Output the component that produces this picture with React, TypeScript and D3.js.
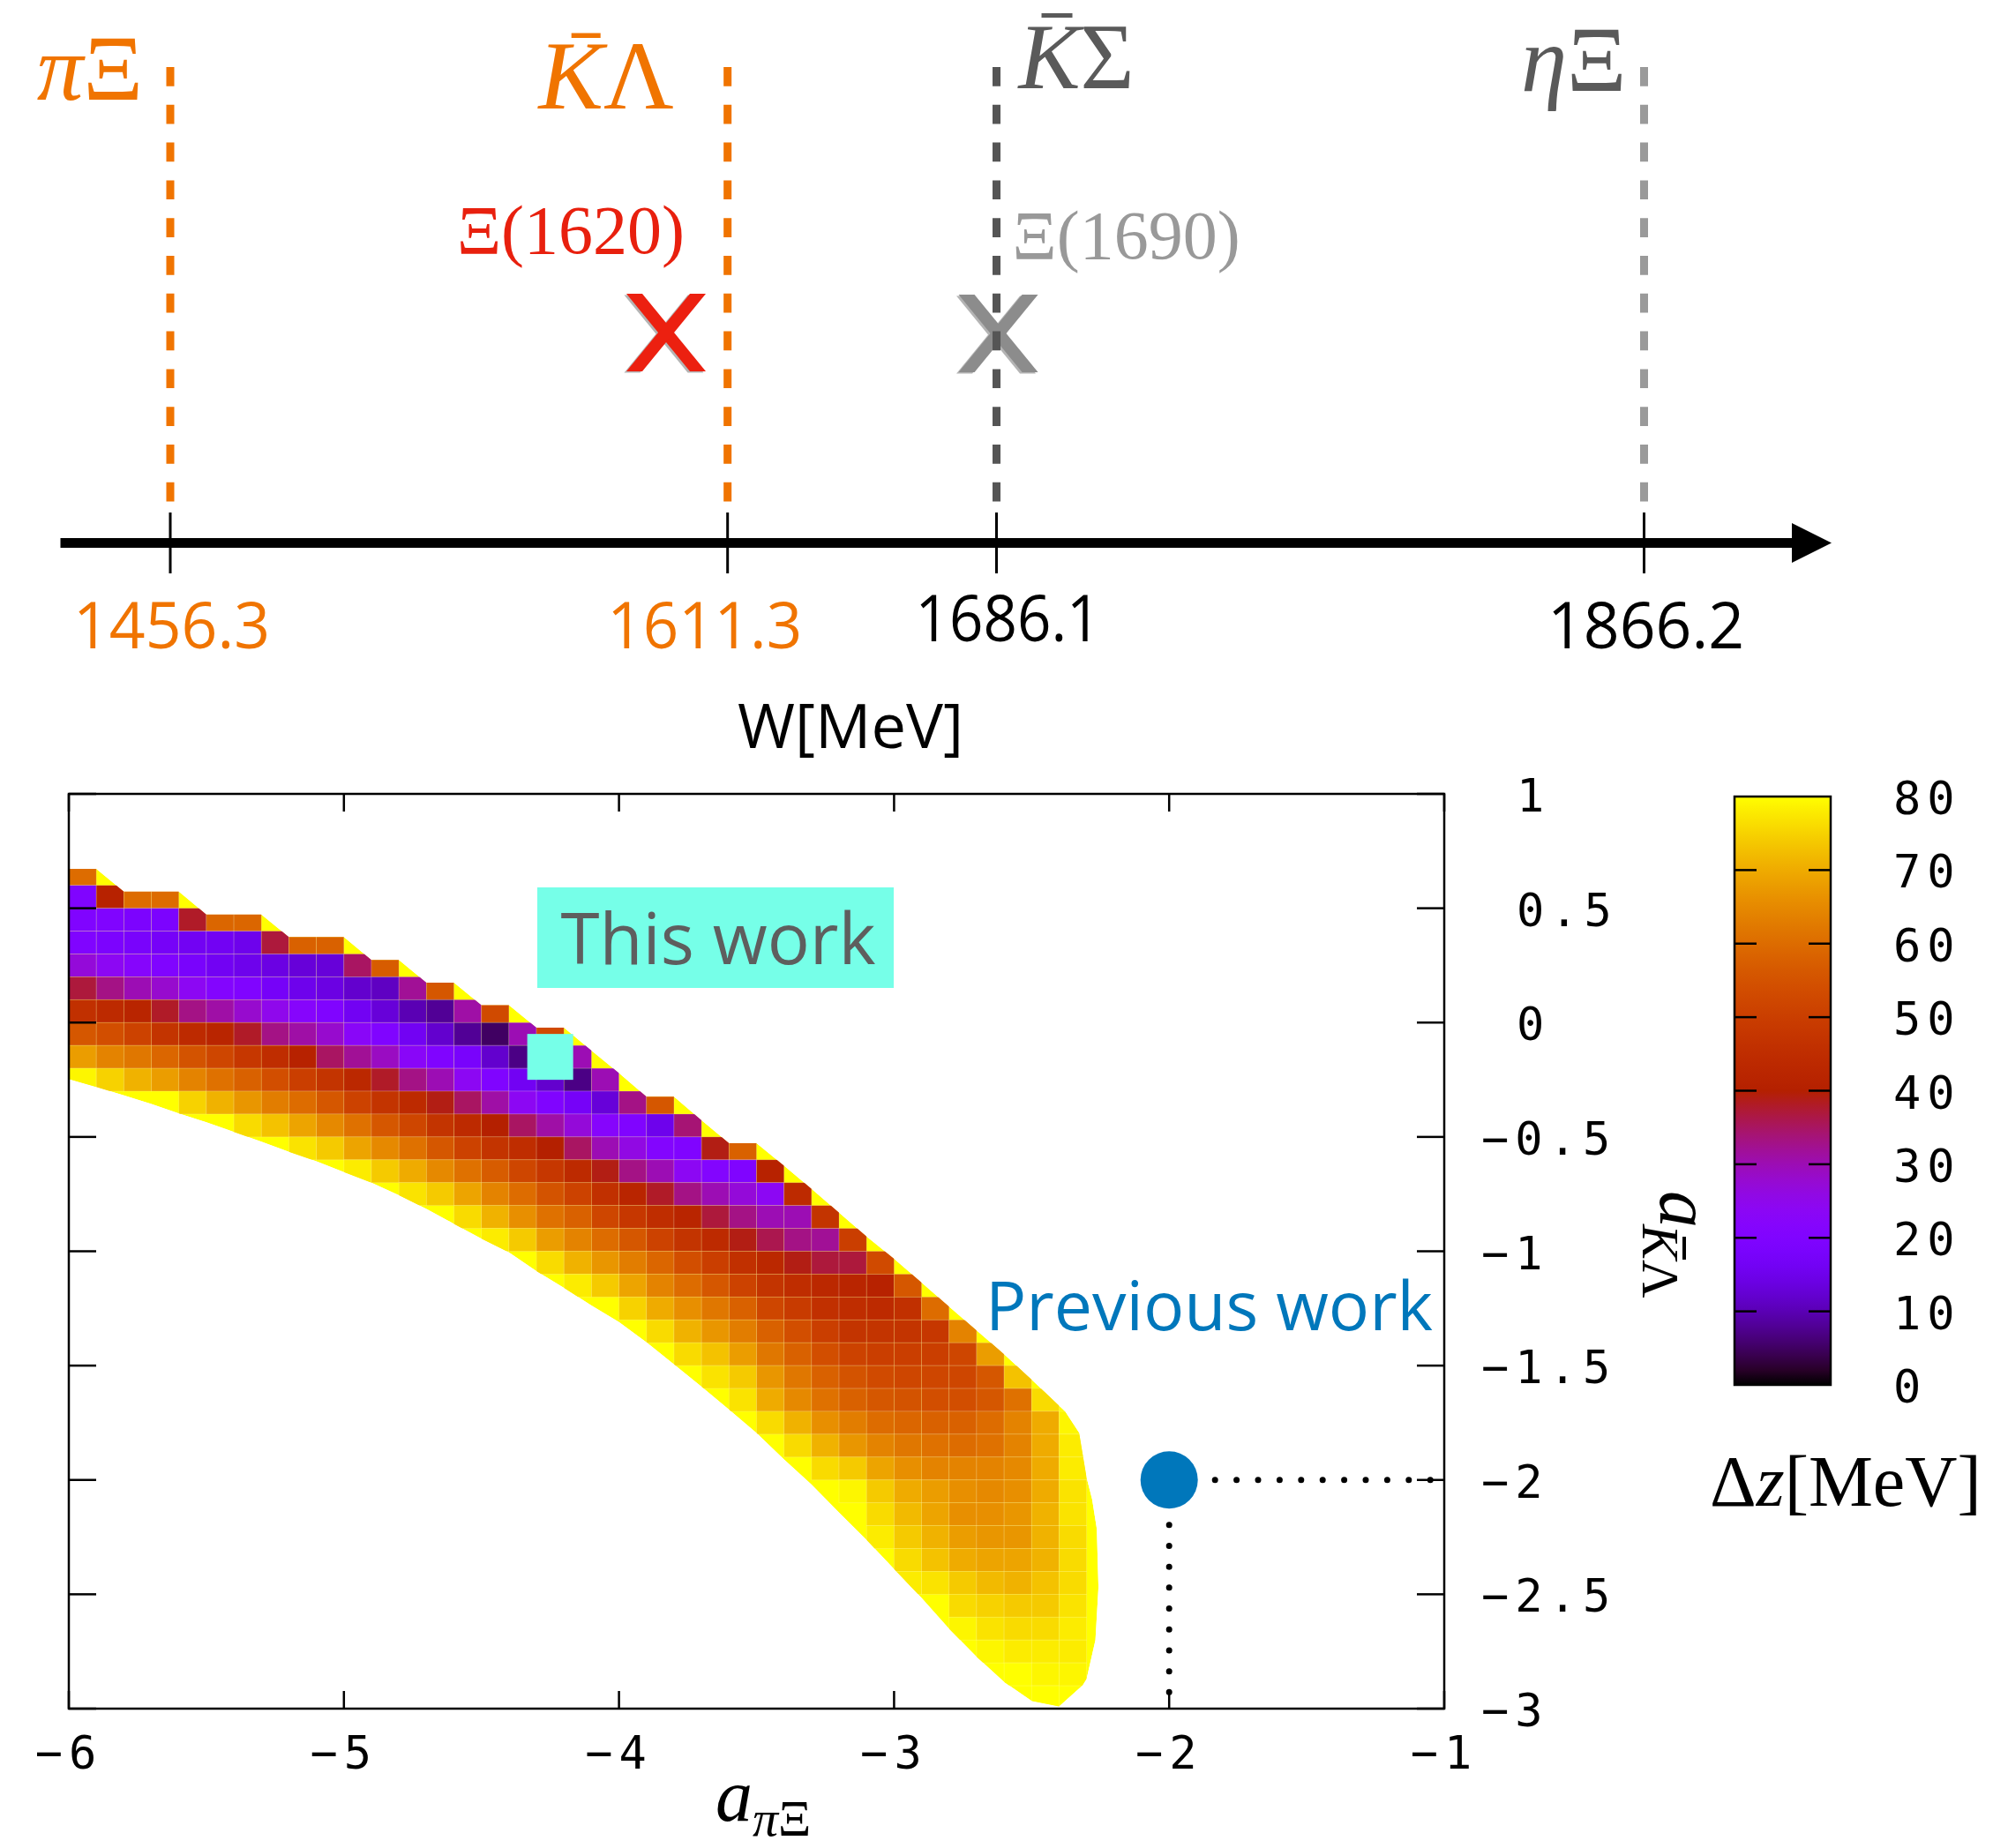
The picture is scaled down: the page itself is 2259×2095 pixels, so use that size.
import React from 'react';
import * as d3 from 'd3';

const WIDTH = 2259;
const HEIGHT = 2095;

// threshold diagram
const channelNames = ['πΞ', 'K̄Λ', 'K̄Σ', 'ηΞ'];
const thresholds = [1456.3, 1611.3, 1686.1, 1866.2];
const resonanceNames = ['Ξ(1620)', 'Ξ(1690)'];
const resonanceW = [1594.2, 1686.6];

// heat map: Δz [MeV] on 0.1 x 0.1 cells
// row k spans b in [0.6 - 0.1k, 0.7 - 0.1k], column c spans a in [-6 + 0.1c, -5.9 + 0.1c]
const rowStartCol = [
  0, 0, 0, 0, 0, 0, 0, 0, 0, 0, 4, 6, 8, 10, 12, 14, 15, 17, 18, 20, 21, 22, 23, 24, 25, 26, 27, 28, 29, 29,
  30, 30, 32, 32, 33, 34, 35,
];
const rowValues = [
  [60],
  [20, 41, 60, 60],
  [20, 20, 19, 19, 38, 59, 59],
  [20, 19, 18, 17, 16, 16, 15, 37, 58, 58],
  [27, 24, 22, 20, 18, 16, 15, 14, 13, 13, 35, 57],
  [37, 33, 30, 28, 24, 21, 20, 17, 15, 14, 12, 11, 32, 56],
  [46, 44, 42, 38, 33, 31, 28, 25, 22, 20, 16, 13, 10, 8, 31, 53],
  [56, 54, 51, 47, 44, 42, 38, 33, 31, 28, 23, 20, 16, 12, 8, 5, 30, 53],
  [68, 64, 62, 59, 55, 52, 48, 45, 41, 35, 32, 29, 23, 20, 18, 12, 7, 3, 30],
  [79, 75, 71, 68, 64, 61, 58, 54, 50, 47, 43, 38, 33, 30, 24, 20, 16, 12, 7, 30],
  [75, 71, 67, 63, 60, 56, 51, 47, 44, 39, 35, 31, 24, 20, 17, 13, 33, 56],
  [76, 73, 69, 65, 61, 56, 52, 47, 44, 40, 35, 31, 27, 22, 20, 15, 34],
  [77, 74, 69, 65, 61, 56, 51, 47, 45, 40, 35, 30, 26, 21, 20, 39, 58],
  [78, 74, 70, 65, 61, 57, 52, 48, 44, 39, 33, 30, 24, 21, 20, 41],
  [77, 74, 69, 64, 60, 55, 51, 46, 42, 38, 33, 30, 27, 24, 44],
  [76, 71, 66, 61, 58, 52, 48, 45, 42, 37, 33, 30, 30, 47],
  [78, 74, 68, 64, 60, 56, 51, 47, 44, 39, 36, 33, 32, 50],
  [76, 71, 67, 63, 59, 54, 50, 46, 43, 39, 37, 37, 53],
  [78, 74, 69, 64, 60, 56, 51, 47, 45, 43, 42, 41, 56],
  [75, 70, 66, 62, 58, 52, 49, 46, 45, 44, 46, 60],
  [76, 71, 67, 63, 58, 54, 50, 47, 47, 47, 48, 64],
  [76, 73, 68, 62, 58, 54, 51, 50, 50, 50, 52, 68],
  [77, 74, 67, 62, 58, 55, 53, 52, 52, 52, 56, 73],
  [77, 70, 65, 61, 58, 56, 55, 54, 54, 56, 61, 76],
  [76, 71, 66, 63, 60, 59, 58, 58, 60, 64, 70, 79],
  [76, 71, 67, 64, 62, 61, 60, 61, 64, 70, 78],
  [76, 74, 69, 66, 64, 64, 64, 65, 70, 78],
  [79, 74, 70, 68, 66, 65, 66, 70, 77],
  [76, 72, 69, 66, 66, 67, 71, 77],
  [78, 74, 71, 68, 67, 67, 71, 76],
  [76, 73, 70, 69, 69, 71, 76],
  [78, 77, 74, 72, 71, 73, 76],
  [76, 75, 74, 74, 77],
  [79, 77, 76, 76, 78],
  [79, 78, 78, 78],
  [80, 79, 79],
  [80],
];

// edge of the allowed region [a_piXi, a_KbarLambda]
const upperEdge = [
  [-6, 0.672], [-5.9, 0.672], [-5.8, 0.573], [-5.6, 0.573], [-5.5, 0.473], [-5.3, 0.473], [-5.2, 0.374],
  [-5.0, 0.374], [-4.9, 0.274], [-4.8, 0.274], [-4.7, 0.175], [-4.6, 0.175], [-4.5, 0.076], [-4.4, 0.076],
  [-4.3, -0.022], [-4.2, -0.022], [-4.1, -0.122], [-4.0, -0.221], [-3.9, -0.324], [-3.8, -0.324],
  [-3.7, -0.427], [-3.6, -0.527], [-3.5, -0.527], [-3.4, -0.626], [-3.3, -0.727], [-3.2, -0.831],
  [-3.1, -0.935], [-3.0, -1.033], [-2.9, -1.137], [-2.8, -1.242], [-2.7, -1.346], [-2.6, -1.45],
  [-2.5, -1.561], [-2.38, -1.698], [-2.327, -1.796], [-2.3, -1.99], [-2.28, -2.085], [-2.263, -2.214],
  [-2.257, -2.47], [-2.268, -2.7], [-2.3, -2.869], [-2.316, -2.9], [-2.4, -2.99],
];
const lowerEdge = [
  [-6, -0.247], [-5.9, -0.282], [-5.8, -0.318], [-5.7, -0.356], [-5.6, -0.397], [-5.5, -0.436],
  [-5.4, -0.478], [-5.3, -0.521], [-5.2, -0.565], [-5.1, -0.607], [-5.0, -0.654], [-4.9, -0.7],
  [-4.8, -0.755], [-4.7, -0.815], [-4.6, -0.88], [-4.5, -0.945], [-4.4, -1.005], [-4.3, -1.087],
  [-4.2, -1.16], [-4.1, -1.237], [-4.0, -1.31], [-3.9, -1.398], [-3.8, -1.495], [-3.7, -1.592],
  [-3.6, -1.692], [-3.5, -1.795], [-3.4, -1.91], [-3.3, -2.02], [-3.2, -2.143], [-3.1, -2.262],
  [-3.0, -2.39], [-2.9, -2.516], [-2.8, -2.651], [-2.7, -2.773], [-2.6, -2.883], [-2.5, -2.966],
  [-2.4, -2.99],
];

const thisWork = [-4.25, -0.15];
const previousWork = [-2, -2];

const xTicks = [-6, -5, -4, -3, -2, -1];
const yTicks = [1, 0.5, 0, -0.5, -1, -1.5, -2, -2.5, -3];
const cbTicks = [0, 10, 20, 30, 40, 50, 60, 70, 80];

// gnuplot default palette (rgbformulae 7,5,15)
function palette(v: number) {
  const t = Math.max(0, Math.min(1, v / 80));
  const r = Math.sqrt(t);
  const g = t * t * t;
  const b = Math.max(0, Math.sin(2 * Math.PI * t));
  return d3.rgb(r * 255, g * 255, b * 255).formatHex();
}

const ORANGE = '#f07400';
const SERIF = "'Liberation Serif', 'Times New Roman', serif";
const MONO = "'DejaVu Sans Mono', monospace";
const SANS = "'Open Sans', 'Noto Sans', sans-serif";

function Cross({ cx, cy, color }: { cx: number; cy: number; color: string }) {
  const dx = 36, dy = 44, hw = 9;
  const arm1 = `M${cx - dx - hw},${cy - dy}L${cx - dx + hw},${cy - dy}L${cx + dx + hw},${cy + dy}L${cx + dx - hw},${cy + dy}Z`;
  const arm2 = `M${cx + dx - hw},${cy - dy}L${cx + dx + hw},${cy - dy}L${cx - dx + hw},${cy + dy}L${cx - dx - hw},${cy + dy}Z`;
  return (
    <g>
      <g transform="translate(-2.5,1.5)" fill="#777" opacity={0.55}>
        <path d={arm1} />
        <path d={arm2} />
      </g>
      <g fill={color}>
        <path d={arm1} />
        <path d={arm2} />
      </g>
    </g>
  );
}

export default function App() {
  const x = d3.scaleLinear().domain([-6, -1]).range([78, 1637]);
  const y = d3.scaleLinear().domain([-3, 1]).range([1937, 900]);
  const cb = d3.scaleLinear().domain([0, 80]).range([1570, 903]);
  const w = d3.scaleLinear().domain([thresholds[0], thresholds[3]]).range([193, 1863.5]);

  const line = d3.line<number[]>().x(d => x(d[0])).y(d => y(d[1]));
  const regionPath = line([...upperEdge, ...lowerEdge.slice().reverse()]) + 'Z';

  const cells: { a0: number; b1: number; v: number }[] = [];
  rowValues.forEach((vals, k) => {
    vals.forEach((v, i) => {
      const c = rowStartCol[k] + i;
      cells.push({ a0: (-60 + c) / 10, b1: (7 - k) / 10, v });
    });
  });

  const lineColors = [ORANGE, ORANGE, '#555555', '#9a9a9a'];
  const labelColors = [ORANGE, ORANGE, '#5a5a5a', '#5a5a5a'];
  const valueColors = [ORANGE, ORANGE, '#000', '#000'];
  const valueShift = [1.5, -26, 13, 2];
  const valueBase = [735, 735, 727, 735];
  const valueLen = [223, 221, 210, 223];

  const gradStops = d3.range(0, 81, 2);

  const mx0 = w(resonanceW[0]);
  const mx1 = w(resonanceW[1]);

  return (
    <svg
      width={WIDTH}
      height={HEIGHT}
      viewBox={`0 0 ${WIDTH} ${HEIGHT}`}
      style={{ position: 'absolute', left: 0, top: 0, background: '#fff' }}
    >
      <defs>
        <clipPath id="region">
          <path d={regionPath} />
        </clipPath>
        <linearGradient id="cbgrad" x1="0" y1="1" x2="0" y2="0">
          {gradStops.map(v => (
            <stop key={v} offset={`${(v / 80) * 100}%`} stopColor={palette(v)} />
          ))}
        </linearGradient>
      </defs>

      {/* ---------- threshold diagram ---------- */}
      <Cross cx={mx0} cy={377} color="#ec2010" />
      <Cross cx={mx1} cy={378} color="#8c8c8c" />

      {thresholds.map((t, i) => (
        <line
          key={'d' + i}
          x1={w(t)}
          x2={w(t)}
          y1={76}
          y2={569}
          stroke={lineColors[i]}
          strokeWidth={9}
          strokeDasharray="21.7 21.1"
        />
      ))}

      <line x1={68.5} x2={2035} y1={615.5} y2={615.5} stroke="#000" strokeWidth={11} />
      <path d="M2031,593L2076,615.5L2031,638Z" fill="#000" />
      {thresholds.map((t, i) => (
        <line key={'t' + i} x1={w(t)} x2={w(t)} y1={581} y2={650} stroke="#000" strokeWidth={3} />
      ))}

      {thresholds.map((t, i) => (
        <text
          key={'v' + i}
          x={w(t) + valueShift[i]}
          y={valueBase[i]}
          textAnchor="middle"
          fontFamily={SANS}
          fontSize={74}
          fill={valueColors[i]}
          textLength={valueLen[i]}
          lengthAdjust="spacingAndGlyphs"
        >
          {t.toFixed(1)}
        </text>
      ))}
      <text
        x={964}
        y={848}
        textAnchor="middle"
        fontFamily={SANS}
        fontSize={70}
        fill="#000"
        textLength={256}
        lengthAdjust="spacingAndGlyphs"
      >
        W[MeV]
      </text>

      {/* channel labels */}
      <text x={w(thresholds[0]) - 31} y={113} textAnchor="end" fontFamily={SERIF} fontSize={105} fill={labelColors[0]}>
        <tspan fontStyle="italic">{channelNames[0][0]}</tspan>
        {channelNames[0].slice(1)}
      </text>
      <text x={w(thresholds[1]) - 61} y={123} textAnchor="end" fontFamily={SERIF} fontSize={110} fill={labelColors[1]}>
        <tspan fontStyle="italic">K</tspan>
        {channelNames[1].slice(-1)}
      </text>
      <rect x={w(thresholds[1]) - 61 - 116} y={37.5} width={33} height={5.5} fill={labelColors[1]} />
      <text x={w(thresholds[2]) + 25} y={100} fontFamily={SERIF} fontSize={105} fill={labelColors[2]}>
        <tspan fontStyle="italic">K</tspan>
        {channelNames[2].slice(-1)}
      </text>
      <rect x={w(thresholds[2]) + 25 + 26} y={15} width={35} height={5} fill={labelColors[2]} />
      <text x={w(thresholds[3]) - 20} y={103} textAnchor="end" fontFamily={SERIF} fontSize={105} fill={labelColors[3]}>
        <tspan fontStyle="italic">{channelNames[3][0]}</tspan>
        {channelNames[3].slice(1)}
      </text>

      <text x={mx0 + 21} y={287} textAnchor="end" fontFamily={SERIF} fontSize={78} fill="#e8200e">
        {resonanceNames[0]}
      </text>
      <text x={mx1 + 16} y={293} fontFamily={SERIF} fontSize={78} fill="#999999">
        {resonanceNames[1]}
      </text>

      {/* ---------- heat map ---------- */}
      <g clipPath="url(#region)">
        <path d={regionPath} fill="#ffff00" />
        {cells.map((c, i) => {
          const x0 = x(c.a0);
          const x1 = x(c.a0 + 0.1);
          const y0 = y(c.b1);
          const y1 = y(c.b1 - 0.1);
          return (
            <rect
              key={i}
              x={x0}
              y={y0}
              width={x1 - x0}
              height={y1 - y0}
              fill={palette(c.v)}
              stroke="rgba(255,255,255,0.22)"
              strokeWidth={0.8}
            />
          );
        })}
      </g>

      {/* frame and ticks */}
      <rect x={x(-6)} y={y(1)} width={x(-1) - x(-6)} height={y(-3) - y(1)} fill="none" stroke="#000" strokeWidth={2.5} />
      {xTicks.map(t => (
        <g key={'xt' + t}>
          <line x1={x(t)} x2={x(t)} y1={y(-3)} y2={y(-3) - 20} stroke="#000" strokeWidth={2.5} />
          <line x1={x(t)} x2={x(t)} y1={y(1)} y2={y(1) + 20} stroke="#000" strokeWidth={2.5} />
          <text x={x(t)} y={2005} textAnchor="middle" fontFamily={MONO} fontSize={52} letterSpacing={7} fill="#000">
            {t < 0 ? '\u2212' + Math.abs(t) : String(t)}
          </text>
        </g>
      ))}
      {yTicks.map(t => (
        <g key={'yt' + t}>
          <line x1={x(-6)} x2={x(-6) + 31} y1={y(t)} y2={y(t)} stroke="#000" strokeWidth={2.5} />
          <line x1={x(-1)} x2={x(-1) - 31} y1={y(t)} y2={y(t)} stroke="#000" strokeWidth={2.5} />
          <text x={t < 0 ? 1679 : 1719} y={y(t) + 20} fontFamily={MONO} fontSize={52} letterSpacing={7} fill="#000">
            {t < 0 ? '\u2212' + Math.abs(t) : String(t)}
          </text>
        </g>
      ))}

      {/* previous work: dotted guides and point */}
      <line
        x1={x(previousWork[0]) + 52}
        x2={x(-1) - 12}
        y1={y(previousWork[1])}
        y2={y(previousWork[1])}
        stroke="#000"
        strokeWidth={7}
        strokeLinecap="round"
        strokeDasharray="0 24.4"
      />
      <line
        x1={x(previousWork[0])}
        x2={x(previousWork[0])}
        y1={y(previousWork[1]) + 51}
        y2={y(-3) - 8}
        stroke="#000"
        strokeWidth={7}
        strokeLinecap="round"
        strokeDasharray="0 23.7"
      />
      <circle cx={x(previousWork[0])} cy={y(previousWork[1])} r={32.5} fill="#0077bb" />
      <text x={1117} y={1508} fontFamily={SANS} fontSize={77} fill="#0077bb">
        Previous work
      </text>

      {/* this work */}
      <rect x={x(thisWork[0]) - 26} y={y(thisWork[1]) - 26} width={52} height={52} fill="#76ffe8" />
      <rect x={609} y={1006} width={404} height={114} fill="#76ffe8" />
      <text x={814} y={1093} textAnchor="middle" fontFamily={SANS} fontSize={80} fill="#5e5e5e">
        This work
      </text>

      {/* axis labels */}
      <text x={811} y={2064} fontFamily={SERIF} fontSize={84} fontStyle="italic" fill="#000">
        a
      </text>
      <text x={853} y={2081} fontFamily={SERIF} fontSize={58} fill="#000">
        <tspan fontStyle="italic">π</tspan>Ξ
      </text>

      <g transform="translate(1882,1350) rotate(90)">
        <text x={0} y={0} fontFamily={SERIF} fontSize={84} fontStyle="italic" fill="#000">
          a
        </text>
        <text x={38} y={20} fontFamily={SERIF} fontSize={60} fill="#000">
          <tspan fontStyle="italic">K</tspan>Λ
        </text>
        <rect x={52} y={-29} width={26} height={4} fill="#000" />
      </g>

      {/* color bar */}
      <rect x={1966} y={cb(80)} width={109} height={cb(0) - cb(80)} fill="url(#cbgrad)" stroke="#000" strokeWidth={2.5} />
      {cbTicks.map(t => (
        <g key={'cb' + t}>
          {t > 0 && t < 80 && (
            <>
              <line x1={1966} x2={1991} y1={cb(t)} y2={cb(t)} stroke="#000" strokeWidth={2.5} />
              <line x1={2075} x2={2050} y1={cb(t)} y2={cb(t)} stroke="#000" strokeWidth={2.5} />
            </>
          )}
          <text x={2146} y={cb(t) + 20} fontFamily={MONO} fontSize={52} letterSpacing={7} fill="#000">
            {t}
          </text>
        </g>
      ))}
      <text x={1938} y={1707} fontFamily={SERIF} fontSize={82} fill="#000">
        Δ<tspan fontStyle="italic">z</tspan>[MeV]
      </text>
    </svg>
  );
}
